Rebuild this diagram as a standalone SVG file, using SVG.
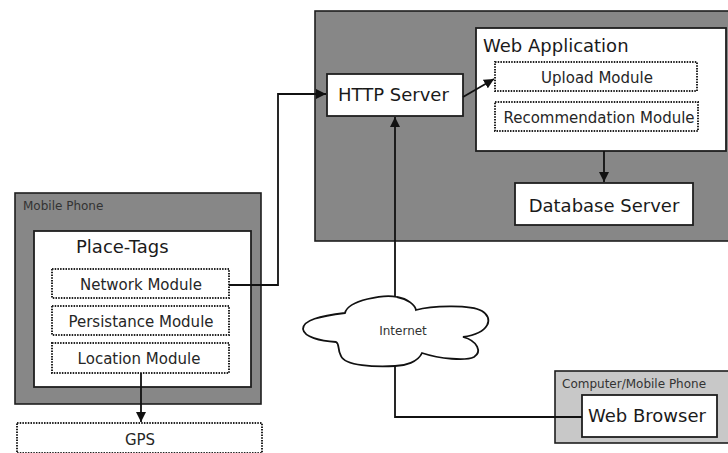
<svg xmlns="http://www.w3.org/2000/svg" width="728" height="453" viewBox="0 0 728 453">
  <defs>
    <marker id="arrow" viewBox="0 0 10 10" refX="10" refY="5" markerWidth="10" markerHeight="10" markerUnits="userSpaceOnUse" orient="auto">
      <path d="M0,0 L10,5 L0,10 Z" fill="#111"/>
    </marker>
    <style>
      text { font-family: "DejaVu Sans", Verdana, sans-serif; fill: #1a1a1a; }
      .host { fill: #878787; stroke: #1e1e1e; stroke-width: 1.6; }
      .client { fill: #c8c8c8; stroke: #1e1e1e; stroke-width: 1.6; }
      .box { fill: #ffffff; stroke: #1e1e1e; stroke-width: 1.8; }
      .module { fill: #ffffff; stroke: #222; stroke-width: 2; stroke-dasharray: 1.5 1.2; }
      .cloud { fill: #ffffff; stroke: #111; stroke-width: 1.8; }
      .link { fill: none; stroke: #111; stroke-width: 1.8; }
      .arrowed { marker-end: url(#arrow); }
      .big { font-size: 18px; }
      .mod { font-size: 15px; text-anchor: middle; fill: #262626; }
      .small { font-size: 12px; fill: #333; }
    </style>
  </defs>

  <rect width="728" height="453" fill="#ffffff"/>

  <!-- server side -->
  <g id="server-host">
    <rect class="host" x="315" y="11" width="420" height="230"/>
  </g>
  <g id="http-server">
    <rect class="box" x="327" y="74" width="136" height="42"/>
    <text class="big" x="338" y="101">HTTP Server</text>
  </g>
  <g id="web-application">
    <rect class="box" x="476" y="28" width="250" height="123"/>
    <text class="big" x="483" y="52">Web Application</text>
  </g>
  <g id="upload-module">
    <rect class="module" x="495" y="62" width="202" height="29"/>
    <text class="mod" x="597" y="83">Upload Module</text>
  </g>
  <g id="recommendation-module">
    <rect class="module" x="495" y="102" width="203" height="29"/>
    <text class="mod" x="599" y="123">Recommendation Module</text>
  </g>
  <g id="database-server">
    <rect class="box" x="515" y="183" width="178" height="42"/>
    <text class="big" x="604" y="212" text-anchor="middle" font-size="18.5">Database Server</text>
  </g>

  <!-- mobile phone -->
  <g id="mobile-phone">
    <rect class="host" x="15" y="193" width="246" height="211"/>
    <text class="small" x="23" y="210">Mobile Phone</text>
  </g>
  <g id="place-tags">
    <rect class="box" x="34" y="231" width="217" height="156"/>
    <text class="big" x="76" y="253">Place-Tags</text>
  </g>
  <g id="network-module">
    <rect class="module" x="52" y="269" width="177" height="29"/>
    <text class="mod" x="141" y="290">Network Module</text>
  </g>
  <g id="persistance-module">
    <rect class="module" x="52" y="306" width="177" height="29"/>
    <text class="mod" x="141" y="327">Persistance Module</text>
  </g>
  <g id="location-module">
    <rect class="module" x="52" y="343" width="177" height="30"/>
    <text class="mod" x="139" y="364">Location Module</text>
  </g>
  <g id="gps">
    <rect class="module" x="17" y="423" width="245" height="30"/>
    <text class="mod" x="140" y="445">GPS</text>
  </g>

  <!-- internet -->
  <g id="internet">
    <path class="cloud" d="M345,313 C348,300 385,294 397,297 C408,299 415,305 416,310 C430,306 470,304 482,311 C494,318 490,333 463,337 C478,341 482,352 474,357 C466,361 440,359 422,353 C418,362 405,366 395,366 C375,367 345,366 341,356 C337,349 340,344 336,342 C320,341 304,337 303,329 C303,320 320,316 345,313 Z"/>
    <text class="small" x="403" y="335" text-anchor="middle" font-size="11.5">Internet</text>
  </g>

  <!-- client -->
  <g id="client-device">
    <rect class="client" x="555" y="371" width="180" height="72"/>
    <text class="small" x="562" y="388" font-size="12.4">Computer/Mobile Phone</text>
  </g>
  <g id="web-browser">
    <rect class="box" x="582" y="395" width="135" height="42"/>
    <text class="big" x="588" y="422">Web Browser</text>
  </g>

  <!-- connectors -->
  <g id="connectors">
    <path class="link arrowed" d="M229,285 H278 V94 H326"/>
    <path class="link arrowed" d="M463,97 L494,79"/>
    <path class="link arrowed" d="M604,151 V182"/>
    <path class="link arrowed" d="M141,373 V422"/>
    <path class="link arrowed" d="M395,297 V117"/>
    <path class="link" d="M395,366 V417 H582"/>
  </g>
</svg>
